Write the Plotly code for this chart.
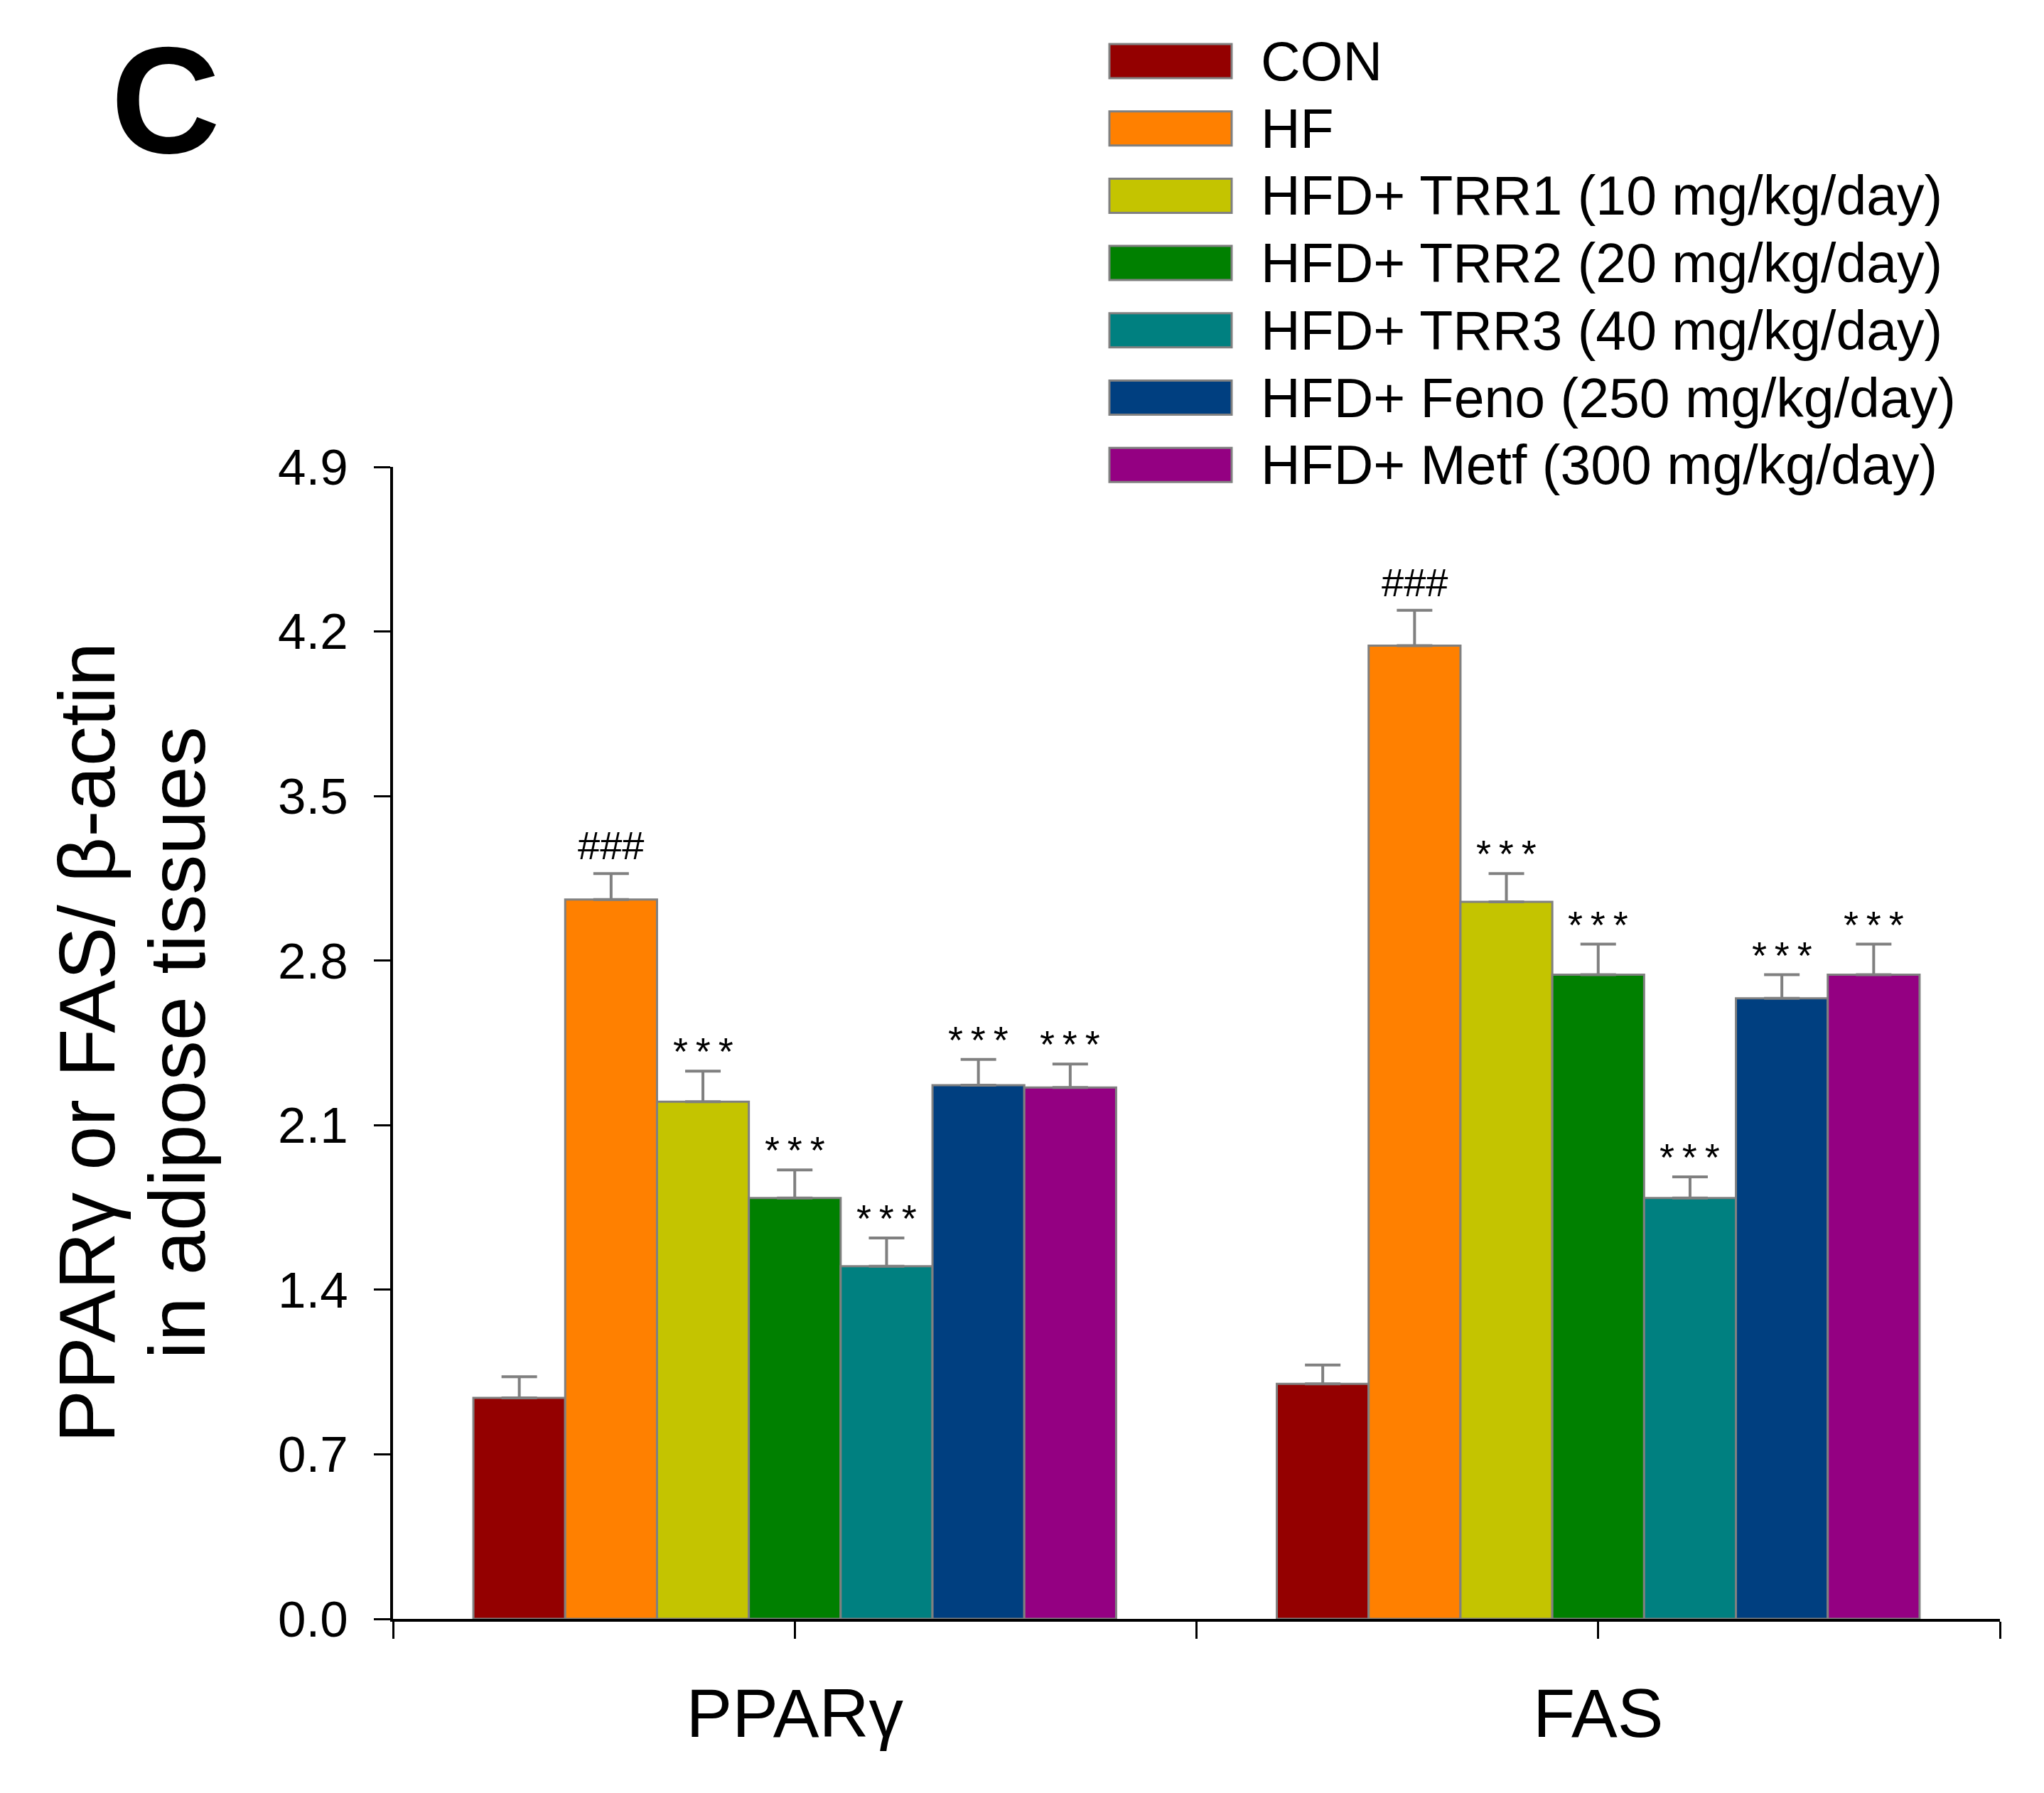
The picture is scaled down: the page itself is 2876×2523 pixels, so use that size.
import plotly.graph_objects as go

# ---- data ----
genes = ["PPARγ", "FAS"]
gene_pos = [0.5, 1.5]

groups = ["CON", "HF", "HFD+ TRR1 (10 mg/kg/day)", "HFD+ TRR2 (20 mg/kg/day)",
          "HFD+ TRR3 (40 mg/kg/day)", "HFD+ Feno (250 mg/kg/day)", "HFD+ Metf (300 mg/kg/day)"]
colors = ["#940000", "#FF8000", "#C4C400", "#008000", "#008080", "#003F80", "#940082"]

ppar_mean = [0.94, 3.06, 2.20, 1.79, 1.50, 2.27, 2.26]
ppar_err = [0.09, 0.11, 0.13, 0.12, 0.12, 0.11, 0.10]
fas_mean = [1.00, 4.14, 3.05, 2.74, 1.79, 2.64, 2.74]
fas_err = [0.08, 0.15, 0.12, 0.13, 0.09, 0.10, 0.13]

sig = ["", "###", "***", "***", "***", "***", "***"]

y_ticks = [0.0, 0.7, 1.4, 2.1, 2.8, 3.5, 4.2, 4.9]

# ---- page geometry (px) ----
# the page body adds an 8px offset, so target positions are shifted back by OFF
W, H = 2876, 2523
OFF = 8
L, R, T, B = 553 - OFF, 62 + OFF, 657 - OFF, 245 + OFF
PW, PH = W - L - R, H - T - B
FONT = "Liberation Sans, Arial, sans-serif"
BARGAP = 0.2


def px_x(px):
    return (px - OFF - L) / PW


def px_y(py):
    return (H - B - (py - OFF)) / PH


fig = go.Figure()
n = len(groups)
for i, g in enumerate(groups):
    fig.add_trace(go.Bar(
        x=gene_pos, y=[ppar_mean[i], fas_mean[i]], name=g,
        marker=dict(color=colors[i], line=dict(color="rgb(128,128,128)", width=3)),
        error_y=dict(type="data", symmetric=False,
                     array=[ppar_err[i], fas_err[i]], arrayminus=[0, 0],
                     color="rgb(128,128,128)", thickness=4, width=25),
        showlegend=False,
    ))

# significance marks above the error bars
slot = (1 - BARGAP) / n
annotations = []
for i in range(n):
    if not sig[i]:
        continue
    for k, (m, e) in enumerate(zip([ppar_mean[i], fas_mean[i]], [ppar_err[i], fas_err[i]])):
        xc = gene_pos[k] - (1 - BARGAP) / 2 + slot * (i + 0.5)
        txt = sig[i] if sig[i] == "###" else "*\u2009*\u2009*"
        annotations.append(dict(
            x=xc, y=m + e, xref="x", yref="y", text=txt, showarrow=False,
            yanchor="bottom", yshift=6 if sig[i] == "###" else -4,
            font=dict(family=FONT, size=56 if sig[i] == "###" else 54, color="black"),
        ))

# panel letter
annotations.append(dict(
    x=px_x(233), y=px_y(141), xref="paper", yref="paper", text="<b>C</b>",
    showarrow=False, xanchor="center", yanchor="middle",
    font=dict(family=FONT, size=213, color="black"),
))

# y-axis title, two lines
annotations.append(dict(
    x=px_x(122), y=0.5, xref="paper", yref="paper", text="PPARγ or FAS/ β-actin",
    showarrow=False, textangle=-90, xanchor="center", yanchor="middle",
    font=dict(family=FONT, size=112, color="black"),
))
annotations.append(dict(
    x=px_x(249), y=0.5, xref="paper", yref="paper", text="in adipose tissues",
    showarrow=False, textangle=-90, xanchor="center", yanchor="middle",
    font=dict(family=FONT, size=112, color="black"),
))

# legend drawn by hand so the swatches keep their wide shape
shapes = []
row0, step = 86, 94.7
for i, g in enumerate(groups):
    cy = row0 + step * i
    shapes.append(dict(
        type="rect", xref="paper", yref="paper",
        x0=px_x(1561), x1=px_x(1733), y0=px_y(cy + 24), y1=px_y(cy - 24),
        fillcolor=colors[i], line=dict(color="rgb(128,128,128)", width=3),
    ))
    annotations.append(dict(
        x=px_x(1772), y=px_y(cy), xref="paper", yref="paper", text=g,
        showarrow=False, xanchor="left", yanchor="middle",
        font=dict(family=FONT, size=77, color="black"),
    ))

fig.update_layout(
    width=W, height=H,
    margin=dict(l=L, r=R, t=T, b=B, pad=0),
    paper_bgcolor="white", plot_bgcolor="white",
    barmode="group", bargap=BARGAP, bargroupgap=0,
    font=dict(family=FONT, color="black"),
    annotations=annotations, shapes=shapes,
    xaxis=dict(
        range=[0, 2], tickvals=[0, 0.5, 1, 1.5, 2], ticktext=["", genes[0], "", genes[1], ""],
        showline=True, linecolor="black", linewidth=4,
        ticks="outside", ticklen=24, tickwidth=3, tickcolor="black",
        showgrid=False, zeroline=False, ticklabelstandoff=22,
        tickfont=dict(family=FONT, size=97, color="black"),
    ),
    yaxis=dict(
        range=[0, 4.9], tickvals=y_ticks, tickformat=".1f",
        showline=True, linecolor="black", linewidth=4,
        ticks="outside", ticklen=23, tickwidth=3, tickcolor="black",
        showgrid=False, zeroline=False, ticklabelstandoff=22,
        tickfont=dict(family=FONT, size=71, color="black"),
    ),
)

fig.write_html("out.html")
